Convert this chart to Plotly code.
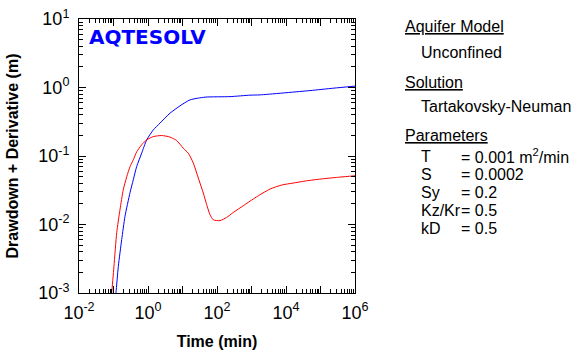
import plotly.graph_objects as go

# Drawdown curve (min, m)
time_drawdown = [0.110, 0.118, 0.138, 0.173, 0.215, 0.301, 0.375, 0.470, 0.656, 0.916,
                 1.43, 2.23, 4.35, 8.47, 16.5, 44.9, 238, 906, 1760, 49700, 234000, 1.0e6]
drawdown = [0.00063, 0.0010, 0.00245, 0.00603, 0.0131, 0.0291, 0.0450, 0.0703, 0.110, 0.172,
            0.241, 0.302, 0.422, 0.540, 0.659, 0.723, 0.736, 0.773, 0.780, 0.902, 0.977, 1.047]

# Derivative curve (min, m)
time_derivative = [0.0813, 0.0887, 0.103, 0.124, 0.154, 0.192, 0.242, 0.301, 0.375, 0.470,
                   0.656, 0.916, 1.43, 2.49, 4.35, 6.79, 10.5, 14.7, 20.6, 25.8,
                   32.1, 40.1, 50.2, 62.7, 78.2, 122, 191, 296, 578, 1130,
                   1760, 3440, 7500, 16300, 35600, 121000, 367000, 1.0e6]
derivative = [0.00060, 0.0010, 0.00243, 0.00759, 0.0164, 0.0321, 0.0498, 0.0697, 0.0881, 0.115,
              0.146, 0.172, 0.192, 0.199, 0.189, 0.168, 0.130, 0.110, 0.0789, 0.0564,
              0.0403, 0.0288, 0.0195, 0.0139, 0.0117, 0.0114, 0.0127, 0.0150, 0.0188, 0.0236,
              0.0272, 0.0329, 0.0377, 0.0403, 0.0431, 0.0466, 0.0492, 0.0514]

x_tick_vals = [1e-2, 1e-1, 1e0, 1e1, 1e2, 1e3, 1e4, 1e5, 1e6]
x_tick_text = ["10<sup>-2</sup>", "", "10<sup>0</sup>", "", "10<sup>2</sup>", "",
               "10<sup>4</sup>", "", "10<sup>6</sup>"]
y_tick_vals = [1e-3, 1e-2, 1e-1, 1e0, 1e1]
y_tick_text = ["10<sup>-3</sup>", "10<sup>-2</sup>", "10<sup>-1</sup>", "10<sup>0</sup>", "10<sup>1</sup>"]

panel_headings = ["Aquifer Model", "Solution", "Parameters"]
panel_values = ["Unconfined", "Tartakovsky-Neuman"]
param_names = ["T", "S", "Sy", "Kz/Kr", "kD"]
param_values = ["= 0.001 m<sup>2</sup>/min", "= 0.0002", "= 0.2", "= 0.5", "= 0.5"]

W, H = 581, 350
ML, MR, MT, MB = 79, 226, 19, 57
FONT = "Liberation Sans, Arial, sans-serif"


def fx(px):
    return (px - ML) / (W - ML - MR)


def fy(py):
    return (H - MB - py) / (H - MT - MB)


def minor_positions(lo, hi):
    # intermediate 2..9 marks within each decade of a log axis
    return [m * 10.0 ** k for k in range(lo, hi) for m in range(2, 10)]


fig = go.Figure()
fig.add_trace(go.Scatter(x=time_drawdown, y=drawdown, mode="lines",
                         line=dict(color="#0000ff", width=1, shape="spline", smoothing=0.6),
                         showlegend=False, hoverinfo="skip"))
fig.add_trace(go.Scatter(x=time_derivative, y=derivative, mode="lines",
                         line=dict(color="#ff0000", width=1, shape="spline", smoothing=0.6),
                         showlegend=False, hoverinfo="skip"))

axis_common = dict(
    type="log", showgrid=False, zeroline=False, automargin=False,
    showline=True, linecolor="black", linewidth=1, mirror="allticks",
    ticks="inside", ticklen=7, tickwidth=1, tickcolor="#000000",
    tickmode="array",
    tickfont=dict(family=FONT, size=18, color="black"),
)

fig.update_xaxes(range=[-2, 6], tickvals=x_tick_vals, ticktext=x_tick_text,
                 ticklabelstandoff=3,
                 minor=dict(ticks="inside", ticklen=4, tickwidth=1, tickcolor="#000000",
                            tickmode="array", tickvals=minor_positions(-2, 6), showgrid=False),
                 title=dict(text="<b>Time (min)</b>", font=dict(family=FONT, size=16, color="black"),
                            standoff=18),
                 **axis_common)
fig.update_yaxes(range=[-3, 1], tickvals=y_tick_vals, ticktext=y_tick_text,
                 ticklabelstandoff=5,
                 minor=dict(ticks="inside", ticklen=4, tickwidth=1, tickcolor="#000000",
                            tickmode="array", tickvals=minor_positions(-3, 1), showgrid=False),
                 title=dict(text="<b>Drawdown + Derivative (m)</b>",
                            font=dict(family=FONT, size=16, color="black"), standoff=15),
                 **axis_common)

annotations = []
# logo
annotations.append(dict(x=fx(87), y=fy(37), xref="paper", yref="paper", xanchor="left",
                        yanchor="middle", showarrow=False,
                        text="<b>AQTESOLV</b>",
                        font=dict(family="DejaVu Sans, sans-serif", size=20, color="#0000ff")))

heading_y = [27, 82, 135]
for txt, py in zip(panel_headings, heading_y):
    annotations.append(dict(x=fx(403), y=fy(py), xref="paper", yref="paper", xanchor="left",
                            yanchor="middle", showarrow=False, text="<u>" + txt + "</u>",
                            font=dict(family=FONT, size=16, color="black")))
value_y = [52, 106]
for txt, py in zip(panel_values, value_y):
    annotations.append(dict(x=fx(419), y=fy(py), xref="paper", yref="paper", xanchor="left",
                            yanchor="middle", showarrow=False, text=txt,
                            font=dict(family=FONT, size=16, color="black")))
param_y = [156, 174, 192, 210, 228]
for name, val, py in zip(param_names, param_values, param_y):
    annotations.append(dict(x=fx(419), y=fy(py), xref="paper", yref="paper", xanchor="left",
                            yanchor="middle", showarrow=False, text=name,
                            font=dict(family=FONT, size=16, color="black")))
    annotations.append(dict(x=fx(459), y=fy(py), xref="paper", yref="paper", xanchor="left",
                            yanchor="middle", showarrow=False, text=val,
                            font=dict(family=FONT, size=16, color="black")))

fig.update_layout(
    template="simple_white",
    width=W, height=H,
    margin=dict(l=ML, r=MR, t=MT, b=MB, pad=0, autoexpand=False),
    paper_bgcolor="white", plot_bgcolor="white",
    annotations=annotations,
)

fig.write_html("out.html")
